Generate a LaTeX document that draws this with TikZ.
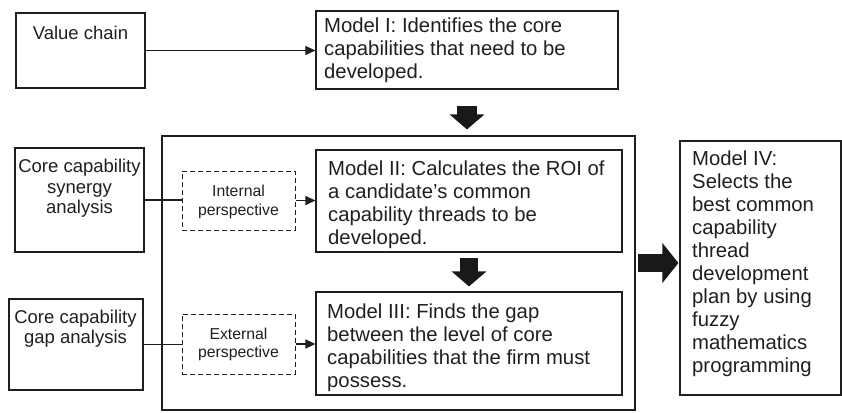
\documentclass[tikz,border=0pt]{standalone}
\usepackage{fontspec}
\setmainfont{Liberation Sans}
\usetikzlibrary{arrows.meta,calc}

\begin{document}
\begin{tikzpicture}[x=1pt,y=-1pt,
  ink/.style={draw=black!88, text=black!88},
  box/.style={ink, line width=1.1pt, rectangle, inner sep=0pt},
  dbox/.style={ink, line width=1pt, rectangle, inner sep=0pt, dash pattern=on 5pt off 3pt},
  % multi-line text nodes sit on the baseline of their last line
  modeltxt/.style={anchor=base west, align=left, inner sep=0pt, text=black!88,
    font=\fontsize{20.3}{23}\selectfont},
  sidetxt/.style={anchor=base, align=center, inner sep=0pt, text=black!88,
    font=\fontsize{18.5}{20.3}\selectfont},
  smalltxt/.style={anchor=base, align=center, inner sep=0pt, text=black!88,
    font=\fontsize{15.8}{18.7}\selectfont},
  link/.style={draw=black!88, line width=1.1pt},
  arr/.style={link, -{Triangle[length=10pt,width=9pt]}},
  fat/.style n args={3}{draw=black!90, line width=#1,
    -{Triangle[length=#2,width=#3]}},
]
\useasboundingbox (0,0) rectangle (842,412);

% outer frame for models II and III
\node[box, minimum width=473pt, minimum height=274pt] (ct) at (398.5,273) {};

% input boxes on the left
\node[box, minimum width=129pt, minimum height=75pt]  (vc) at (80.5,50.5) {};
\node[box, minimum width=129pt, minimum height=104pt] (sy) at (79.5,200) {};
\node[box, minimum width=134pt, minimum height=91pt]  (ga) at (76,344.5) {};
\node[sidetxt] (vct) at (80.5,39.3) {Value chain};
\node[sidetxt] (syt) at (79.5,213.3) {Core capability\\synergy\\analysis};
\node[sidetxt] (gat) at (75.5,343.6) {Core capability\\gap analysis};

% perspectives
\node[dbox, minimum width=113pt, minimum height=59pt] (ip) at (238.5,200.5) {};
\node[dbox, minimum width=113pt, minimum height=60pt] (ep) at (238.5,344) {};
\node[smalltxt] (ipt) at (238.5,215.4) {Internal\\perspective};
\node[smalltxt] (ept) at (238.5,357.7) {External\\perspective};

% models
\node[box, minimum width=302pt, minimum height=78pt]  (m1) at (467,50) {};
\node[box, minimum width=306pt, minimum height=102pt] (m2) at (469,201) {};
\node[box, minimum width=306pt, minimum height=103pt] (m3) at (469,343.5) {};
\node[box, minimum width=161pt, minimum height=254pt] (m4) at (760.5,268) {};
\node[modeltxt] (m1t) at (324,78) {Model I: Identifies the core\\capabilities that need to be\\developed.};
\node[modeltxt] (m2t) at (328,244) {Model II: Calculates the ROI of\\a candidate’s common\\capability threads to be\\developed.};
\node[modeltxt] (m3t) at (327,387) {Model III: Finds the gap\\between the level of core\\capabilities that the firm must\\possess.};
\node[modeltxt] (m4t) at (692,372.7) {Model IV:\\Selects the\\best common\\capability\\thread\\development\\plan by using\\fuzzy\\mathematics\\programming};

% thin connectors
\draw[arr]  (vc.east) -- (vc.east -| m1.west);
\draw[link] (sy.east) -- (sy.east -| ip.west);
\draw[arr]  (ip.east) -- (ip.east -| m2.west);
\draw[link] (ga.east) -- (ga.east -| ep.west);
\draw[arr]  (ep.east) -- (ep.east -| m3.west);

% block arrows
\draw[fat={20pt}{15pt}{34pt}] ($(m1.south)+(0,16)$) -- ($(m1.south |- ct.north)+(0,-6)$);
\draw[fat={18pt}{15pt}{34pt}] ($(m2.south)+(0,5)$) -- ($(m3.north)+(0,-5)$);
\draw[fat={18pt}{16pt}{39pt}] ($(ct.east)+(2,-10)$) -- ($(m4.west |- ct.east)+(-1,-10)$);
\end{tikzpicture}
\end{document}
